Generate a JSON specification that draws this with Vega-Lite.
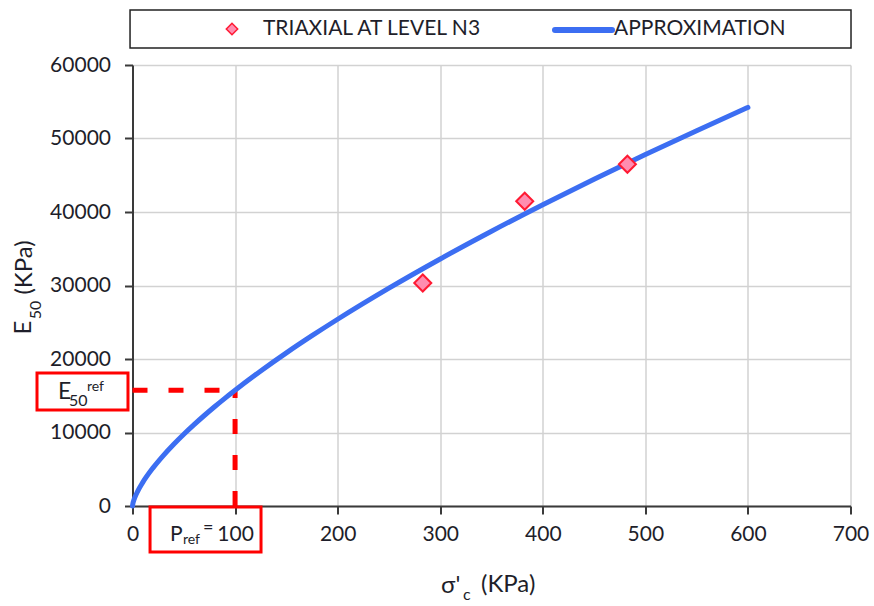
{
  "$schema": "https://vega.github.io/schema/vega-lite/v6.json",
  "width": 718,
  "height": 441,
  "autosize": {"type": "none"},
  "padding": {"left": 132.5, "top": 65, "right": 23.5, "bottom": 100},
  "background": "white",
  "config": {
    "view": {"stroke": null},
    "font": "Lato",
    "text": {"font": "Lato", "color": "#1e1e2a"}
  },
  "datasets": {
    "curve": [
      {"s": 0, "E": 0}, {"s": 0.5, "E": 406}, {"s": 1, "E": 656}, {"s": 2, "E": 1060},
      {"s": 5, "E": 1994}, {"s": 10, "E": 3216}, {"s": 20, "E": 5188}, {"s": 30, "E": 6862},
      {"s": 40, "E": 8370}, {"s": 50, "E": 9763}, {"s": 60, "E": 11072}, {"s": 70, "E": 12313},
      {"s": 80, "E": 13502}, {"s": 90, "E": 14646}, {"s": 100, "E": 15750}, {"s": 125, "E": 18372},
      {"s": 150, "E": 20836}, {"s": 175, "E": 23171}, {"s": 200, "E": 25409}, {"s": 250, "E": 29640},
      {"s": 300, "E": 33611}, {"s": 350, "E": 37384}, {"s": 400, "E": 40991}, {"s": 450, "E": 44462},
      {"s": 500, "E": 47815}, {"s": 550, "E": 51067}, {"s": 600, "E": 54226}
    ],
    "tests": [
      {"s": 283, "E": 30340},
      {"s": 382.4, "E": 41460},
      {"s": 482.5, "E": 46490}
    ],
    "refs": [
      {"s": 0, "s2": 100, "E": 15750, "E2": 15750},
      {"s": 100, "s2": 100, "E": 0, "E2": 15750}
    ],
    "boxes": [
      {"key": "E50", "s": -93.1, "s2": -4.4, "E": 18095, "E2": 13061},
      {"key": "pref", "s": 17.1, "s2": 125.3, "E": -136, "E2": -6259}
    ],
    "legendbox": [{"s": -2.4, "s2": 700.5, "E": 67483, "E2": 62313}],
    "legendsym": [{"s": 97, "E": 64898}],
    "legendline": [{"s": 411.9, "E": 64762}, {"s": 467.5, "E": 64762}],
    "labels": [
      {"key": "leg1", "text": "TRIAXIAL AT LEVEL N3", "s": 127.2, "E": 64898},
      {"key": "leg2", "text": "APPROXIMATION", "s": 469.4, "E": 64898},
      {"key": "bigE", "text": "E", "s": -72.6, "E": 15510},
      {"key": "sub50", "text": "50", "s": -61.9, "E": 14286},
      {"key": "supref", "text": "ref", "s": -44.4, "E": 16190},
      {"key": "bigP", "text": "P", "s": 36.6, "E": -3946},
      {"key": "subref", "text": "ref", "s": 49.2, "E": -4626},
      {"key": "eq", "text": "=", "s": 68.7, "E": -2993},
      {"key": "ytE", "text": "E", "s": -105.8, "E": 24286},
      {"key": "yt50", "text": "50", "s": -93.6, "E": 26667},
      {"key": "ytK", "text": "(KPa)", "s": -104.8, "E": 32449},
      {"key": "xtS", "text": "σ'", "s": 300.8, "E": -10884},
      {"key": "xtc", "text": "c", "s": 322.2, "E": -12109},
      {"key": "xtK", "text": "(KPa)", "s": 339.8, "E": -10748}
    ]
  },
  "encoding": {
    "x": {
      "field": "s", "type": "quantitative",
      "scale": {"domain": [0, 700], "nice": false, "zero": false},
      "axis": {
        "title": null, "values": [0, 100, 200, 300, 400, 500, 600, 700], "format": "d",
        "labelFont": "Lato", "labelFontSize": 21, "labelColor": "#1e1e2a", "labelPadding": 9,
        "grid": true, "gridColor": "#d2d2d2", "gridWidth": 1.5,
        "domainColor": "#3a3a3a", "domainWidth": 2, "tickColor": "#3a3a3a", "tickWidth": 2, "tickSize": 8,
        "labelFlush": false, "labelOverlap": false
      }
    },
    "y": {
      "field": "E", "type": "quantitative",
      "scale": {"domain": [0, 60000], "nice": false, "zero": false},
      "axis": {
        "title": null, "values": [0, 10000, 20000, 30000, 40000, 50000, 60000], "format": "d",
        "labelFont": "Lato", "labelFontSize": 21, "labelColor": "#1e1e2a", "labelPadding": 14,
        "grid": true, "gridColor": "#d2d2d2", "gridWidth": 1.5,
        "domainColor": "#3a3a3a", "domainWidth": 2, "tickColor": "#3a3a3a", "tickWidth": 2, "tickSize": 8,
        "labelFlush": false, "labelOverlap": false
      }
    }
  },
  "layer": [
    {
      "data": {"name": "refs"},
      "mark": {"type": "rule", "color": "#ff0000", "strokeWidth": 5, "strokeDash": [15, 21]},
      "encoding": {"x2": {"field": "s2"}, "y2": {"field": "E2"}}
    },
    {
      "data": {"name": "curve"},
      "mark": {"type": "line", "color": "#3c6ef2", "strokeWidth": 5, "interpolate": "monotone", "strokeCap": "round"},
      "encoding": {}
    },
    {
      "data": {"name": "tests"},
      "mark": {"type": "point", "shape": "diamond", "filled": true, "fill": "#ff8db0", "stroke": "#ff1a33", "strokeWidth": 2, "size": 290, "opacity": 1},
      "encoding": {}
    },
    {
      "data": {"name": "boxes"},
      "mark": {"type": "rect", "fill": "transparent", "stroke": "#ff0000", "strokeWidth": 3},
      "encoding": {"x2": {"field": "s2"}, "y2": {"field": "E2"}}
    },
    {
      "data": {"name": "legendbox"},
      "mark": {"type": "rect", "fill": "white", "stroke": "#222222", "strokeWidth": 1.5},
      "encoding": {"x2": {"field": "s2"}, "y2": {"field": "E2"}}
    },
    {
      "data": {"name": "legendsym"},
      "mark": {"type": "point", "shape": "diamond", "filled": true, "fill": "#ff8db0", "stroke": "#ff1a33", "strokeWidth": 1.5, "size": 130, "opacity": 1},
      "encoding": {}
    },
    {
      "data": {"name": "legendline"},
      "mark": {"type": "line", "color": "#3c6ef2", "strokeWidth": 6, "strokeCap": "round"},
      "encoding": {}
    },
    {
      "data": {"name": "labels"},
      "transform": [{"filter": "datum.key == 'leg1' || datum.key == 'leg2'"}],
      "mark": {"type": "text", "align": "left", "baseline": "middle", "fontSize": 21},
      "encoding": {"text": {"field": "text"}}
    },
    {
      "data": {"name": "labels"},
      "transform": [{"filter": "datum.key == 'bigE'"}],
      "mark": {"type": "text", "align": "left", "baseline": "middle", "fontSize": 23},
      "encoding": {"text": {"field": "text"}}
    },
    {
      "data": {"name": "labels"},
      "transform": [{"filter": "datum.key == 'sub50' || datum.key == 'xtc'"}],
      "mark": {"type": "text", "align": "left", "baseline": "middle", "fontSize": 16},
      "encoding": {"text": {"field": "text"}}
    },
    {
      "data": {"name": "labels"},
      "transform": [{"filter": "datum.key == 'supref' || datum.key == 'subref'"}],
      "mark": {"type": "text", "align": "left", "baseline": "middle", "fontSize": 14},
      "encoding": {"text": {"field": "text"}}
    },
    {
      "data": {"name": "labels"},
      "transform": [{"filter": "datum.key == 'bigP'"}],
      "mark": {"type": "text", "align": "left", "baseline": "middle", "fontSize": 21},
      "encoding": {"text": {"field": "text"}}
    },
    {
      "data": {"name": "labels"},
      "transform": [{"filter": "datum.key == 'eq'"}],
      "mark": {"type": "text", "align": "left", "baseline": "middle", "fontSize": 18},
      "encoding": {"text": {"field": "text"}}
    },
    {
      "data": {"name": "labels"},
      "transform": [{"filter": "datum.key == 'ytE' || datum.key == 'ytK'"}],
      "mark": {"type": "text", "align": "center", "baseline": "middle", "fontSize": 24, "angle": 270},
      "encoding": {"text": {"field": "text"}}
    },
    {
      "data": {"name": "labels"},
      "transform": [{"filter": "datum.key == 'yt50'"}],
      "mark": {"type": "text", "align": "center", "baseline": "middle", "fontSize": 16, "angle": 270},
      "encoding": {"text": {"field": "text"}}
    },
    {
      "data": {"name": "labels"},
      "transform": [{"filter": "datum.key == 'xtS' || datum.key == 'xtK'"}],
      "mark": {"type": "text", "align": "left", "baseline": "middle", "fontSize": 24},
      "encoding": {"text": {"field": "text"}}
    }
  ]
}
